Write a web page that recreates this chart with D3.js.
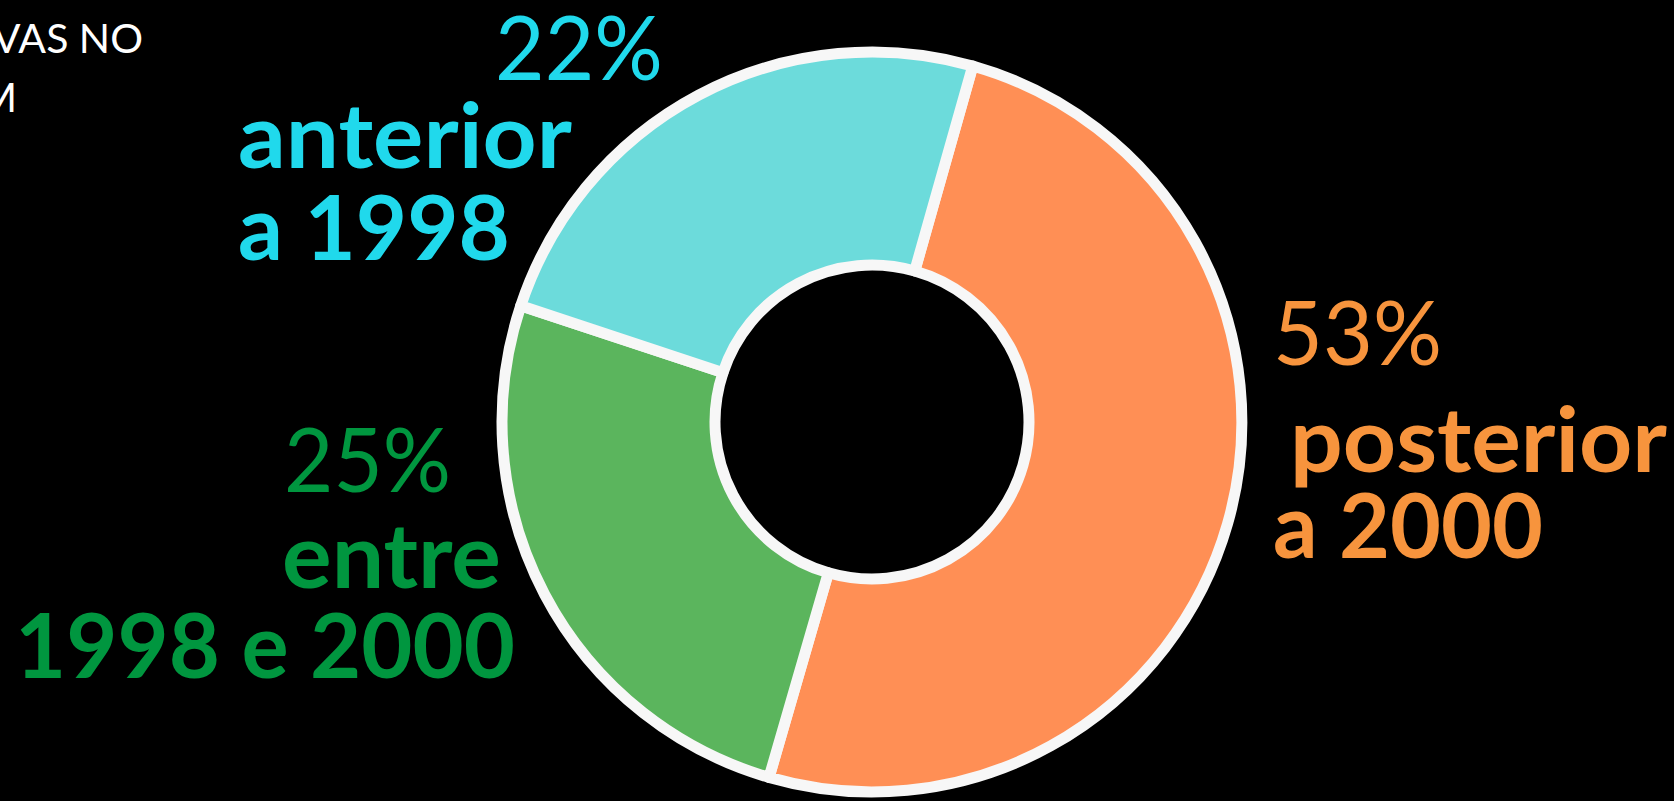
<!DOCTYPE html>
<html><head><meta charset="utf-8">
<script src="https://cdn.jsdelivr.net/npm/d3@7"></script>
<style>html,body{margin:0;padding:0;background:#000;overflow:hidden}</style>
</head><body>
<svg id="chart" width="1674" height="801"></svg>
<script>
// ---- data ----
const categories = ["posterior a 2000", "entre 1998 e 2000", "anterior a 1998"];
const sliceShares = [50.1, 25.6, 24.3];          // slice sizes as drawn
const percentLabels = ["53%", "25%", "22%"];      // printed labels
const categoryLines = [["posterior", "a 2000"], ["entre", "1998 e 2000"], ["anterior", "a 1998"]];
const titleLines = ["VAS NO", "M"];

// ---- styles / layout ----
const sliceColors = ["#FF8F55", "#5BB55D", "#6CDBDB"];
const textColors = ["#F7943D", "#00963F", "#20D9EC"];
const W = 1674, H = 801;
const cx = 872, cy = 422, outerR = 370, innerR = 157;
const startDeg = 15.8;
// [x, baseline y, anchor, width]
const labelLayout = [
  { pct: [1273, 365, "start", 169], lines: [[1290, 472, "start", 377], [1273, 558, "start", 270]] },
  { pct: [451, 492, "end", 167], lines: [[501, 588, "end", 219], [515, 678, "end", 500]] },
  { pct: [663, 80, "end", 168], lines: [[238, 168, "start", 334], [238, 260, "start", 272]] }
];
const FONT = "Lato, 'Open Sans', sans-serif";

const svg = d3.select("#chart");
svg.append("rect").attr("width", W).attr("height", H).attr("fill", "#000");

const data = categories.map((c, i) => ({ name: c, value: sliceShares[i], idx: i }));
const a0 = startDeg * Math.PI / 180;
const pie = d3.pie().value(d => d.value).sort(null).startAngle(a0).endAngle(a0 + 2 * Math.PI);
const arc = d3.arc().innerRadius(innerR).outerRadius(outerR);

const g = svg.append("g").attr("transform", `translate(${cx},${cy})`);
g.selectAll("path.slice").data(pie(data)).join("path")
  .attr("class", "slice")
  .attr("d", arc)
  .attr("fill", d => sliceColors[d.data.idx])
  .attr("stroke", "#F7F7F7")
  .attr("stroke-width", 11)
  .attr("stroke-linejoin", "round");

// title fragment (cut off at the left edge, as in the source)
svg.append("text").attr("x", 143).attr("y", 53).attr("text-anchor", "end")
  .attr("font-family", FONT).attr("font-size", 41).attr("fill", "#fff").text(titleLines[0]);
svg.append("text").attr("x", 17).attr("y", 112).attr("text-anchor", "end")
  .attr("font-family", FONT).attr("font-size", 41).attr("fill", "#fff").text(titleLines[1]);

function fitText(sel, w) {
  sel.attr("textLength", w).attr("lengthAdjust", "spacingAndGlyphs");
}

// labels
labelLayout.forEach((L, i) => {
  svg.append("text").attr("x", L.pct[0]).attr("y", L.pct[1]).attr("text-anchor", L.pct[2])
    .attr("font-family", FONT).attr("font-size", 90).attr("font-weight", 400)
    .attr("fill", textColors[i]).text(percentLabels[i]).call(fitText, L.pct[3]);
  L.lines.forEach((p, j) => {
    svg.append("text").attr("x", p[0]).attr("y", p[1]).attr("text-anchor", p[2])
      .attr("font-family", FONT).attr("font-size", 90).attr("font-weight", 700)
      .attr("fill", textColors[i]).text(categoryLines[i][j]).call(fitText, p[3]);
  });
});
</script>
</body></html>
